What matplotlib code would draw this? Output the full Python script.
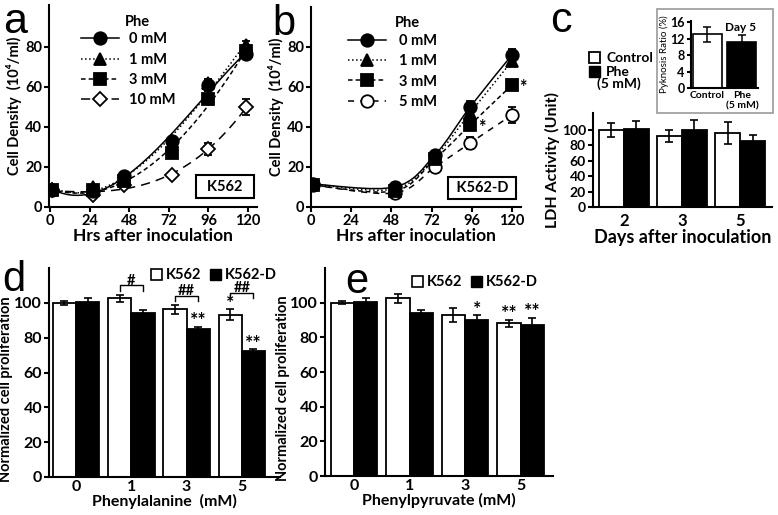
import numpy as np
import matplotlib.pyplot as plt
from matplotlib.lines import Line2D
from matplotlib.patches import Patch, Rectangle, PathPatch
from matplotlib.path import Path

plt.rcParams['font.family'] = ['Lato', 'DejaVu Sans']
plt.rcParams['font.weight'] = 'bold'
plt.rcParams['axes.labelweight'] = 'bold'
plt.rcParams['axes.linewidth'] = 1.5

# ---- data ----
# panel a: K562 growth curves
hrs_a = [1, 26, 45, 74, 96, 119]
a_labels = ['0 mM', '1 mM', '3 mM', '10 mM']
a_vals = [
    [8.5, 8, 15.5, 33, 61, 76.5],
    [9, 10, 15, 31, 62, 81],
    [8.5, 8.5, 13, 27, 54, 78],
    [8.5, 6, 11, 16, 29, 50],
]
a_errs = [
    [0, 0, 0, 1.5, 3, 2],
    [0, 0, 0, 1, 2, 2],
    [0, 0, 0, 1, 2, 2],
    [0, 0, 0, 0, 3, 4],
]

# panel b: K562-D growth curves
hrs_b = [1, 50, 74, 95, 120]
b_labels = ['0 mM', '1 mM', '3 mM', '5 mM']
b_vals = [
    [11.5, 10, 26, 50, 76],
    [11.5, 9, 25, 47, 73],
    [11, 8, 24, 41, 61],
    [11, 7, 20, 32, 46],
]
b_errs = [
    [0, 0, 0, 3, 3],
    [0, 0, 0, 3, 2],
    [0, 0, 0, 2, 2],
    [0, 0, 0, 3, 4],
]
b_star_idx = [3, 4]  # 3 mM points marked with *

# panel c: LDH activity
days = ['2', '3', '5']
ldh_ctrl = [100, 92, 96]
ldh_ctrl_err = [9, 8, 14]
ldh_phe = [101.5, 100, 85.5]
ldh_phe_err = [10, 13, 8]
pyk_labels = ['Control', 'Phe\n(5 mM)']
pyk_vals = [13.1, 11.3]
pyk_errs = [1.8, 1.6]

# panel d: phenylalanine
conc = ['0', '1', '3', '5']
d_k562 = [100, 102.5, 96.2, 93.3]
d_k562_err = [1, 2, 2.5, 3]
d_k562d = [100.5, 94.4, 85.2, 72.1]
d_k562d_err = [2, 1.7, 1.2, 1.2]
d_k562_sig = ['', '', '', '*']
d_k562d_sig = ['', '', '**', '**']
d_pair_sig = ['', '#', '##', '##']

# panel e: phenylpyruvate
e_k562 = [100, 102.5, 92.9, 88]
e_k562_err = [1, 2.5, 4, 2]
e_k562d = [100.5, 93.8, 89.8, 87]
e_k562d_err = [2, 2, 3, 4.3]
e_k562_sig = ['', '', '', '**']
e_k562d_sig = ['', '', '*', '**']

# ---- styles ----
curve_ls = ['-', ':', (0, (3, 2)), (0, (6, 4))]
curve_ls_b = ['-', ':', (0, (3, 2)), (0, (4, 4))]
mk_a = [('o', 'black', 9), ('^', 'black', 9), ('s', 'black', 8), ('D', 'white', 7)]
mk_b = [('o', 'black', 9), ('^', 'black', 9), ('s', 'black', 8), ('o', 'white', 9)]

W, H = 778, 515
fig = plt.figure(figsize=(W / 100, H / 100), dpi=100)


def px_axes(x0, y0, x1, y1):
    return fig.add_axes([x0 / W, 1 - y1 / H, (x1 - x0) / W, (y1 - y0) / H])


def style_axes(ax, xticks=True):
    ax.spines['top'].set_visible(False)
    ax.spines['right'].set_visible(False)
    ax.tick_params(direction='out', width=1.5, length=3.5, labelsize=10.5, pad=1.5)
    if not xticks:
        ax.tick_params(axis='x', length=0, pad=4)


def fit_curve(ax, hrs, v, ls):
    # cubic least-squares trend through the points
    grid = np.linspace(0, 120, 200)
    coef = np.polyfit(hrs, v, 3)
    ax.plot(grid, np.polyval(coef, grid), color='black', lw=1.1, ls=ls, zorder=2)


def smooth_curve(ax, hrs, v, ls):
    # smoothed line through the points (Catmull-Rom as cubic Bezier)
    pts = np.column_stack([hrs, v]).astype(float)
    n = len(pts)
    verts, codes = [pts[0]], [Path.MOVETO]
    for i in range(n - 1):
        p0 = pts[max(i - 1, 0)]
        p1, p2 = pts[i], pts[i + 1]
        p3 = pts[min(i + 2, n - 1)]
        verts += [p1 + (p2 - p0) / 6, p2 - (p3 - p1) / 6, p2]
        codes += [Path.CURVE4] * 3
    ax.add_patch(PathPatch(Path(verts, codes), fill=False, ec='black', lw=1.1, ls=ls, zorder=2))


def growth_panel(ax, hrs, vals, errs, styles, markers, xlim, ylim, curve):
    handles = []
    for v, e, ls, (m, fc, ms) in zip(vals, errs, styles, markers):
        curve(ax, hrs, v, ls)
        ax.errorbar(hrs, v, yerr=e, fmt=m, color='black', mfc=fc, mec='black',
                    ms=ms, mew=1.3, capsize=3, elinewidth=1.2, capthick=1.2,
                    zorder=4 if fc == 'black' else 3)
        handles.append(Line2D([], [], color='black', ls=ls, lw=1.1, marker=m,
                              mfc=fc, mec='black', ms=ms, mew=1.3))
    ax.set_xlim(*xlim)
    ax.set_ylim(*ylim)
    ax.set_xticks([0, 24, 48, 72, 96, 120])
    ax.set_yticks([0, 20, 40, 60, 80])
    ax.set_xlabel('Hrs after inoculation', fontsize=12.5, labelpad=0)
    ax.set_ylabel('Cell Density  (10⁴/ml)', fontsize=10.5, labelpad=2)
    style_axes(ax)
    return handles


# ---- panel a ----
ax_a = px_axes(49, 5, 257, 207)
h = growth_panel(ax_a, hrs_a, a_vals, a_errs, curve_ls, mk_a, (-0.6, 125.4), (0, 101), fit_curve)
ax_a.legend(h, a_labels, loc='upper left', bbox_to_anchor=(0.12, 0.9), frameon=False,
            borderpad=0, handlelength=2.6, handletextpad=0.7, labelspacing=0.42, fontsize=10.5)
ax_a.text(0.365, 0.915, 'Phe', transform=ax_a.transAxes, fontsize=10.5, va='center')
ax_a.text(0.845, 0.1, '  K562  ', transform=ax_a.transAxes, fontsize=10.5, ha='center', va='center',
          bbox=dict(boxstyle='square,pad=0.3', fc='white', ec='black', lw=1.5))

# ---- panel b ----
ax_b = px_axes(311, 7, 521, 207)
h = growth_panel(ax_b, hrs_b, b_vals, b_errs, curve_ls_b, mk_b, (0, 125.4), (0, 100), smooth_curve)
ax_b.legend(h, b_labels, loc='upper left', bbox_to_anchor=(0.14, 0.9), frameon=False,
            borderpad=0, handlelength=2.6, handletextpad=0.9, labelspacing=0.42, fontsize=10.5)
ax_b.text(0.4, 0.92, 'Phe', transform=ax_b.transAxes, fontsize=10.5, va='center')
ax_b.text(0.815, 0.095, ' K562-D ', transform=ax_b.transAxes, fontsize=10.5, ha='center', va='center',
          bbox=dict(boxstyle='square,pad=0.3', fc='white', ec='black', lw=1.5))
for i in b_star_idx:
    ax_b.text(hrs_b[i] + 4.5, b_vals[2][i] - 1, '*', fontsize=13, ha='left', va='center')


def bar_pair(ax, n, v1, e1, v2, e2, w):
    x = np.arange(n)
    kw = dict(ecolor='black', capsize=3, error_kw=dict(elinewidth=1.2, capthick=1.2))
    ax.bar(x - w / 2, v1, w, yerr=e1, color='white', edgecolor='black', lw=1.3, **kw)
    ax.bar(x + w / 2, v2, w, yerr=e2, color='black', edgecolor='black', lw=1.3, **kw)
    return x


# ---- panel c ----
ax_c = px_axes(593, 113, 772, 207)
xc = bar_pair(ax_c, len(days), ldh_ctrl, ldh_ctrl_err, ldh_phe, ldh_phe_err, 0.43)
ax_c.set_xlim(-0.53, 2.55)
ax_c.set_ylim(0, 122)
ax_c.set_xticks(xc, days)
ax_c.set_yticks([0, 20, 40, 60, 80, 100])
style_axes(ax_c, xticks=False)
ax_c.tick_params(axis='x', labelsize=12)
ax_c.tick_params(axis='y', labelsize=10)
ax_c.set_xlabel('Days after inoculation', fontsize=13, labelpad=0)
ax_c.set_ylabel('LDH Activity (Unit)', fontsize=11.5, labelpad=1)
fig.legend([Patch(fc='white', ec='black', lw=1.3), Patch(fc='black', ec='black')],
           ['Control', 'Phe'], loc='upper left', bbox_to_anchor=(582 / W, 1 - 45 / H),
           frameon=False, borderpad=0, handlelength=0.8, handleheight=0.8,
           handletextpad=0.45, labelspacing=0.15, fontsize=10)
fig.text(597 / W, 1 - 84 / H, '(5 mM)', fontsize=10, va='center', ha='left')

# inset
fig.patches.append(Rectangle((657 / W, 1 - 113 / H), 116 / W, 104 / H, transform=fig.transFigure,
                             fill=False, ec='#999999', lw=1.2))
ax_i = px_axes(691, 21, 758, 88)
xi = np.arange(len(pyk_labels))
ax_i.bar(xi, pyk_vals, 0.83, yerr=pyk_errs, color=['white', 'black'], edgecolor='black', lw=1.2,
         ecolor='black', capsize=3, error_kw=dict(elinewidth=1.1, capthick=1.1))
ax_i.set_xlim(-0.46, 1.46)
ax_i.set_ylim(0, 16.3)
ax_i.set_yticks([0, 4, 8, 12, 16])
ax_i.set_xticks(xi, pyk_labels)
style_axes(ax_i, xticks=False)
ax_i.tick_params(axis='y', labelsize=9, length=3)
ax_i.tick_params(axis='x', labelsize=7.5, pad=2)
ax_i.set_ylabel('Pyknosis Ratio (%)', fontsize=7, fontweight='normal', labelpad=1)
ax_i.text(0.74, 0.91, 'Day 5', transform=ax_i.transAxes, fontsize=8.5, ha='center', va='center')


def prolif_panel(ax, v1, e1, v2, e2, s1, s2, xlim, xlabel):
    w = 0.42
    x = bar_pair(ax, len(conc), v1, e1, v2, e2, w)
    for i in range(len(conc)):
        if s1[i]:
            ax.text(x[i] - w / 2, v1[i] + e1[i] + 3.5, s1[i], fontsize=14, ha='center', va='center')
        if s2[i]:
            ax.text(x[i] + w / 2, v2[i] + e2[i] + 3.5, s2[i], fontsize=14, ha='center', va='center')
    ax.set_xlim(*xlim)
    ax.set_ylim(0, 120)
    ax.set_xticks(x, conc)
    ax.set_yticks([0, 20, 40, 60, 80, 100])
    style_axes(ax, xticks=False)
    ax.tick_params(labelsize=11.5)
    ax.tick_params(axis='x', pad=2)
    ax.set_xlabel(xlabel, fontsize=11.5, labelpad=0)
    ax.set_ylabel('Normalized cell proliferation', fontsize=10.5, labelpad=1)
    ax.yaxis.set_label_coords(-0.155, 0.42)
    ax.legend([Patch(fc='white', ec='black', lw=1.2), Patch(fc='black', ec='black')],
              ['K562', 'K562-D'], ncol=2, loc='upper left', frameon=False, borderpad=0,
              handlelength=0.75, handleheight=0.75, handletextpad=0.25, columnspacing=0.6,
              fontsize=10.5)
    return x, w


# ---- panel d ----
ax_d = px_axes(49, 268, 280, 477)
xd, wd = prolif_panel(ax_d, d_k562, d_k562_err, d_k562d, d_k562d_err, d_k562_sig, d_k562d_sig,
                      (-0.49, 3.69), 'Phenylalanine  (mM)')
ax_d.get_legend().set_bbox_to_anchor((144 / W, 1 - 261 / H), transform=fig.transFigure)
for i, s in enumerate(d_pair_sig):
    if not s:
        continue
    top = d_k562[i] + d_k562_err[i] + (4 if d_k562_sig[i] else 0)
    top = max(top, d_k562d[i] + d_k562d_err[i]) + 2.5
    ax_d.plot([xd[i] - wd / 2, xd[i] - wd / 2, xd[i] + wd / 2, xd[i] + wd / 2],
              [top, top + 3, top + 3, top], color='black', lw=1)
    ax_d.text(xd[i], top + 5.5, s, fontsize=10.5, ha='center', va='center')

# ---- panel e ----
ax_e = px_axes(325, 268, 553, 476)
prolif_panel(ax_e, e_k562, e_k562_err, e_k562d, e_k562d_err, e_k562_sig, e_k562d_sig,
             (-0.52, 3.58), 'Phenylpyruvate (mM)')
ax_e.get_legend().set_bbox_to_anchor((405 / W, 1 - 268 / H), transform=fig.transFigure)

# panel letters
for x, y, s, fs in [(3, 33, 'a', 31), (272, 35, 'b', 30), (550, 32, 'c', 31),
                    (2, 291, 'd', 30), (345, 293, 'e', 30)]:
    fig.text(x / W, 1 - y / H, s, fontsize=fs, fontweight='normal', va='baseline', ha='left',
             family=['Liberation Sans', 'DejaVu Sans'])

fig.savefig('out.png', dpi=100)
